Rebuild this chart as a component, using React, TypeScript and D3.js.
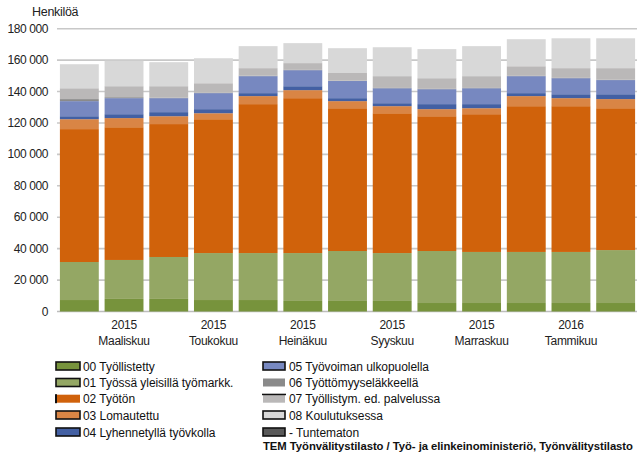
import * as React from "react";
import * as d3 from "d3";

// kuukaudet 2/2015 - 2/2016
const months = [
  "Helmikuu", "Maaliskuu", "Huhtikuu", "Toukokuu", "Kesäkuu", "Heinäkuu", "Elokuu",
  "Syyskuu", "Lokakuu", "Marraskuu", "Joulukuu", "Tammikuu", "Helmikuu",
];
const years = ["2015", "2015", "2015", "2015", "2015", "2015", "2015", "2015", "2015", "2015", "2015", "2016", "2016"];

const seriesNames = [
  "00 Työllistetty",
  "01 Työssä yleisillä työmarkk.",
  "02 Työtön",
  "03 Lomautettu",
  "04 Lyhennetyllä työvkolla",
  "05 Työvoiman ulkopuolella",
  "06 Työttömyyseläkkeellä",
  "07 Työllistym. ed. palvelussa",
  "08 Koulutuksessa",
  "- Tuntematon",
];
const seriesColors = [
  "#77933c", "#94a764", "#d0620b", "#d98545", "#4360a3",
  "#7788c0", "#8a8a8a", "#bab8b8", "#d8d8d8", "#595959",
];

const tyollistetty = [7300, 8000, 8000, 7300, 7300, 6700, 6700, 6700, 5400, 5400, 5400, 5400, 5400];
const tyossa = [24200, 24800, 26700, 29900, 29900, 30500, 31800, 30500, 33100, 32500, 32500, 32500, 33700];
const tyoton = [84600, 84500, 84600, 85200, 94800, 98600, 90900, 89000, 85800, 87700, 92800, 92800, 90300];
const lomautettu = [6300, 5800, 5000, 3800, 5100, 5100, 4500, 4500, 4500, 3800, 6400, 5100, 5800];
const lyhennetty = [1900, 2500, 2600, 2600, 1900, 2500, 1900, 1900, 3200, 2600, 1900, 2500, 3100];
const ulkopuolella = [9600, 10200, 8900, 10200, 10800, 10200, 10900, 9500, 9500, 10100, 10800, 10200, 9000];
const elakkeella = [1300, 600, 300, 300, 300, 200, 200, 200, 200, 200, 200, 200, 200];
const palvelussa = [6900, 7000, 7300, 6000, 4800, 4300, 4900, 7500, 6800, 7500, 6100, 6200, 7400];
const koulutuksessa = [15300, 16200, 15300, 15900, 14000, 12700, 15800, 18400, 18500, 19100, 17200, 19000, 19000];
const tuntematon = [0, 0, 0, 0, 0, 0, 0, 0, 0, 0, 0, 0, 0];

const yTicks = [0, 20000, 40000, 60000, 80000, 100000, 120000, 140000, 160000, 180000];

const W = 637;
const H = 457;
const FONT = "'Liberation Sans', Arial, sans-serif";

export default function App() {
  const ref = React.useRef<SVGSVGElement | null>(null);

  React.useEffect(() => {
    const svg = d3.select(ref.current);
    svg.selectAll("*").remove();

    const allSeries = [
      tyollistetty, tyossa, tyoton, lomautettu, lyhennetty,
      ulkopuolella, elakkeella, palvelussa, koulutuksessa, tuntematon,
    ];
    const rows = months.map((m, i) => {
      const r: Record<string, number> = { idx: i };
      allSeries.forEach((s, k) => (r["s" + k] = s[i]));
      return r;
    });
    const keys = allSeries.map((_, k) => "s" + k);
    const stacked = d3.stack<Record<string, number>>().keys(keys)(rows);

    const x = d3
      .scaleBand<number>()
      .domain(d3.range(months.length))
      .range([57, 638])
      .paddingInner(0.13)
      .paddingOuter(0.065);
    const y = d3.scaleLinear().domain([0, 180000]).range([311.5, 28.7]);

    // gridlines
    svg
      .append("g")
      .selectAll("line")
      .data(yTicks)
      .enter()
      .append("line")
      .attr("x1", 57)
      .attr("x2", W)
      .attr("y1", (d) => y(d))
      .attr("y2", (d) => y(d))
      .attr("stroke", (d) => (d === 0 ? "#bdbdbd" : "#c8c8c8"))
      .attr("stroke-width", 1.6);

    // y labels
    svg
      .append("g")
      .selectAll("text")
      .data(yTicks)
      .enter()
      .append("text")
      .attr("x", 48)
      .attr("y", (d) => y(d) + 4)
      .attr("text-anchor", "end")
      .attr("font-family", FONT)
      .attr("font-size", 12)
      .attr("letter-spacing", -0.4)
      .attr("fill", "#222")
      .text((d) => d3.format(",")(d).replace(/,/g, " "));

    svg
      .append("text")
      .attr("x", 32)
      .attr("y", 16)
      .attr("font-family", FONT)
      .attr("font-size", 12.5)
      .attr("letter-spacing", -0.3)
      .attr("fill", "#222")
      .text("Henkilöä");

    // bars
    stacked.forEach((layer, k) => {
      svg
        .append("g")
        .attr("fill", seriesColors[k])
        .selectAll("rect")
        .data(layer)
        .enter()
        .append("rect")
        .attr("x", (d, i) => x(i)!)
        .attr("width", x.bandwidth())
        .attr("y", (d) => y(d[1]))
        .attr("height", (d) => Math.max(0, y(d[0]) - y(d[1])));
    });

    // x labels every second month
    const xl = svg.append("g");
    months.forEach((m, i) => {
      if (i % 2 !== 1) return;
      const cx = x(i)! + x.bandwidth() / 2;
      xl.append("text")
        .attr("x", cx)
        .attr("y", 329)
        .attr("text-anchor", "middle")
        .attr("font-family", FONT)
        .attr("font-size", 12)
        .attr("letter-spacing", -0.3)
        .attr("fill", "#222")
        .text(years[i]);
      xl.append("text")
        .attr("x", cx)
        .attr("y", 344.5)
        .attr("text-anchor", "middle")
        .attr("font-family", FONT)
        .attr("font-size", 12)
        .attr("letter-spacing", -0.3)
        .attr("fill", "#222")
        .text(m);
    });

    // legend
    const legend = svg.append("g");
    const rowY = [366.5, 383, 399.2, 415.5, 432.5];
    seriesNames.forEach((name, k) => {
      const col = Math.floor(k / 5);
      const ry = rowY[k % 5];
      const sx = col === 0 ? 56 : 263;
      const sw = col === 0 ? 24 : 22;
      const tx = col === 0 ? 83 : 289;
      const g = legend.append("g");
      const bordered = ![2, 6, 7].includes(k);
      g.append("rect")
        .attr("x", sx)
        .attr("y", ry - 4.5)
        .attr("width", sw)
        .attr("height", 8)
        .attr("fill", seriesColors[k])
        .attr("stroke", bordered ? "#111" : "none")
        .attr("stroke-width", 1.6);
      if (k === 2) {
        g.append("rect").attr("x", sx - 1).attr("y", ry - 5).attr("width", 2).attr("height", 9).attr("fill", "#111");
      }
      if (k === 7) {
        g.append("rect").attr("x", sx - 1).attr("y", ry - 5.5).attr("width", sw + 2).attr("height", 1.5).attr("fill", "#111");
      }
      g.append("text")
        .attr("x", tx)
        .attr("y", ry + 4)
        .attr("font-family", FONT)
        .attr("font-size", 12)
        .attr("letter-spacing", -0.05)
        .attr("fill", "#111")
        .text(name);
    });

    svg
      .append("text")
      .attr("x", 263)
      .attr("y", 450)
      .attr("font-family", FONT)
      .attr("font-size", 11.3)
      .attr("font-weight", "bold")
      .attr("letter-spacing", -0.05)
      .attr("fill", "#111")
      .text("TEM Työnvälitystilasto / Työ- ja elinkeinoministeriö, Työnvälitystilasto");
  }, []);

  return (
    <svg
      ref={ref}
      width={W}
      height={H}
      style={{ position: "absolute", left: 0, top: 0, background: "#fff" }}
    />
  );
}
